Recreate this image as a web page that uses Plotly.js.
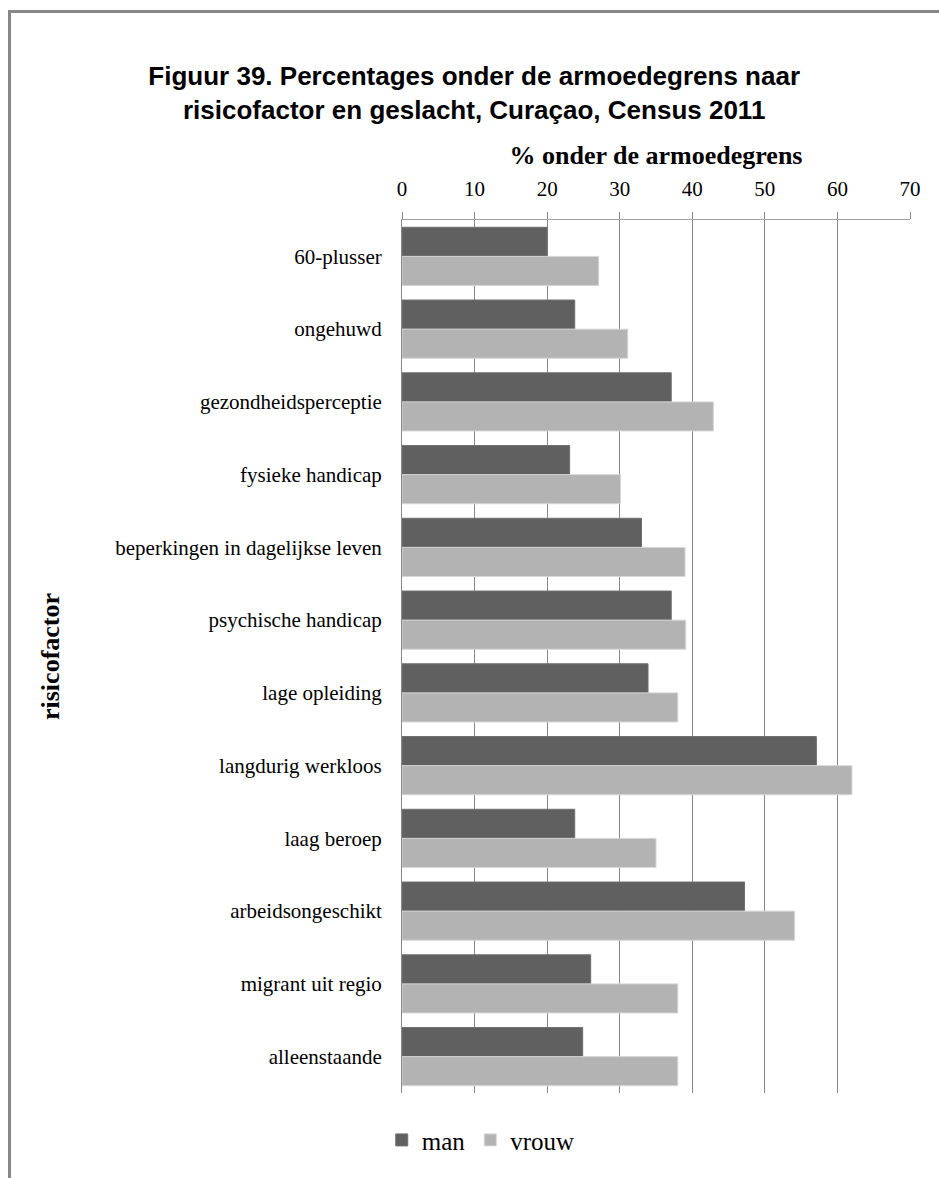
<!DOCTYPE html>
<html>
<head>
<meta charset="utf-8">
<script src="https://cdn.plot.ly/plotly-3.0.1.min.js"></script>
<style>
  html, body { margin: 0; padding: 0; background: #fff; }
  #wrap { position: relative; width: 939px; height: 1178px; overflow: hidden; }
  #chart { position: absolute; left: 0; top: 0; width: 939px; height: 1178px; }
  #frame { position: absolute; left: 8px; top: 10px; width: 960px; height: 1200px;
           border-left: 3px solid #878787; border-top: 3px solid #878787; pointer-events: none; }
</style>
</head>
<body>
<div id="wrap">
  <div id="chart"></div>
  <div id="frame"></div>
</div>
<script>
const categories = [
  "60-plusser",
  "ongehuwd",
  "gezondheidsperceptie",
  "fysieke handicap",
  "beperkingen in dagelijkse leven",
  "psychische handicap",
  "lage opleiding",
  "langdurig werkloos",
  "laag beroep",
  "arbeidsongeschikt",
  "migrant uit regio",
  "alleenstaande"
];
const manValues   = [20.0, 23.8, 37.1, 23.1, 33.0, 37.1, 33.9, 57.1, 23.8, 47.2, 26.0, 24.9];
const vrouwValues = [27.1, 31.1, 42.9, 30.1, 39.0, 39.1, 38.0, 62.0, 35.0, 54.1, 38.0, 38.0];
const seriesNames = ["man", "vrouw"];
const xTicks = [0, 10, 20, 30, 40, 50, 60, 70];

const serif = "'Liberation Serif', 'Times New Roman', serif";
const sans = "'Liberation Sans', Arial, sans-serif";

const traces = [
  {
    type: "bar", orientation: "h", name: seriesNames[0],
    y: categories, x: manValues,
    marker: { color: "#606060", line: { color: "#707070", width: 1 } },
    hoverinfo: "x+y"
  },
  {
    type: "bar", orientation: "h", name: seriesNames[1],
    y: categories, x: vrouwValues,
    marker: { color: "#b3b3b3", line: { color: "#d6d6d6", width: 1 } },
    hoverinfo: "x+y"
  }
];

const layout = {
  width: 939, height: 1178,
  margin: { l: 401.5, r: 28.5, t: 220, b: 85 },
  paper_bgcolor: "rgba(0,0,0,0)",
  plot_bgcolor: "#fff",
  barmode: "group",
  bargap: 0.2,
  bargroupgap: 0,
  showlegend: true,
  title: {
    text: "Figuur 39. Percentages onder de armoedegrens naar<br>risicofactor en geslacht, Curaçao, Census 2011",
    font: { family: sans, size: 26, color: "#000", weight: "bold" },
    x: 0.505, xanchor: "center", xref: "container",
    y: 1 - 85 / 1178, yanchor: "middle", yref: "container"
  },
  xaxis: {
    side: "top",
    range: [0, 70],
    tickvals: xTicks,
    ticktext: xTicks.map(String),
    showgrid: true, gridcolor: "#888", gridwidth: 1,
    zeroline: false,
    showline: true, linecolor: "#a0a0a0", linewidth: 1,
    ticks: "outside", ticklen: 7, tickcolor: "#888", tickwidth: 1,
    ticklabelstandoff: 8,
    tickfont: { family: serif, size: 21, color: "#000" },
    title: {
      text: "% onder de armoedegrens",
      font: { family: serif, size: 26, color: "#000", weight: "bold" },
      standoff: 4
    },
    fixedrange: true
  },
  yaxis: {
    autorange: "reversed",
    type: "category",
    showgrid: false,
    zeroline: false,
    showline: true, linecolor: "#888", linewidth: 1,
    ticks: "", ticklabelstandoff: 15,
    tickfont: { family: serif, size: 21, color: "#000" },
    title: {
      text: "risicofactor",
      font: { family: serif, size: 26, color: "#000", weight: "bold" },
      standoff: 48
    },
    fixedrange: true
  },
  legend: {
    orientation: "h",
    x: 0.155, xanchor: "center",
    y: -0.054, yanchor: "middle",
    font: { family: serif, size: 25, color: "#000" },
    itemwidth: 30,
    traceorder: "normal"
  }
};

Plotly.newPlot("chart", traces, layout, { displayModeBar: false, staticPlot: true });
</script>
</body>
</html>
